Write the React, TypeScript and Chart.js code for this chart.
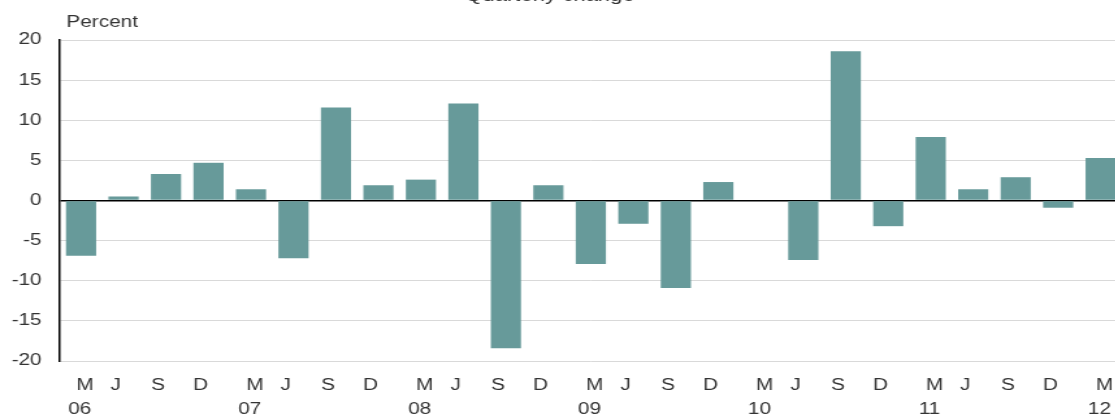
import React, { useEffect, useRef } from "react";
import { Chart, registerables } from "chart.js";

Chart.register(...registerables);

const months = ["M", "J", "S", "D"];
const years = ["06", "07", "08", "09", "10", "11", "12"];
const categories: string[] = [];
years.forEach((y, i) => {
  months.forEach((m, j) => {
    if (i === years.length - 1 && j > 0) return;
    categories.push(m + " " + y);
  });
});

const values = [
  -6.9, 0.5, 3.3, 4.7,
  1.4, -7.2, 11.6, 1.9,
  2.6, 12.1, -18.4, 1.9,
  -7.9, -2.9, -10.9, 2.3,
  0, -7.4, 18.6, -3.2,
  7.9, 1.4, 2.9, -0.9,
  5.3,
];

const yTicks = [-20, -15, -10, -5, 0, 5, 10, 15, 20];
const titleText = "Quarterly change";
const unitText = "Percent";

const FONT = "'Liberation Sans', Arial, sans-serif";
const STRETCH = 1.3;
const CANVAS_W = 863;

export default function App() {
  const ref = useRef<HTMLCanvasElement | null>(null);
  useEffect(() => {
    document.body.style.margin = "0";
    const textPlugin = {
      id: "texts",
      afterDraw(chart: any) {
        const c = chart.ctx;
        const xs = chart.scales.x;
        c.save();
        c.fillStyle = "#333";
        c.font = `17px ${FONT}`;
        c.textAlign = "center";
        c.textBaseline = "alphabetic";
        c.fillText(titleText, 423, 1);
        c.font = `16px ${FONT}`;
        c.textAlign = "left";
        c.fillText(unitText, chart.chartArea.left + 5, 27);
        c.textAlign = "center";
        c.textBaseline = "middle";
        categories.forEach((lab, i) => {
          const [m, y] = lab.split(" ");
          const cx = xs.getPixelForValue(i);
          const off = m === "M" ? 3 : -6;
          c.fillText(m, cx + off, 386);
          if (m === "M") c.fillText(y, cx - 1, 410);
        });
        c.restore();
      },
    };
    const chart = new Chart(ref.current!, {
      type: "bar",
      data: {
        labels: categories,
        datasets: [
          {
            data: values,
            backgroundColor: "#679a9a",
            borderWidth: 0,
            categoryPercentage: 1,
            barPercentage: 0.71,
          },
        ],
      },
      options: {
        animation: false,
        responsive: true,
        maintainAspectRatio: false,
        layout: { padding: { top: 40, right: 0, left: 0, bottom: 0 } },
        plugins: { legend: { display: false }, tooltip: { enabled: false } },
        scales: {
          x: {
            grid: { display: false, drawTicks: false },
            border: { display: false },
            ticks: { display: false },
            afterFit(scale: any) {
              scale.height = 59;
            },
          },
          y: {
            min: -20,
            max: 20,
            afterBuildTicks(scale: any) {
              scale.ticks = yTicks.map((v) => ({ value: v }));
            },
            grid: {
              drawTicks: false,
              color: (ctx: any) => (ctx.tick && ctx.tick.value === 0 ? "#000" : "#d9d9d9"),
              lineWidth: (ctx: any) => (ctx.tick && ctx.tick.value === 0 ? 1.5 : 1),
            },
            border: { display: true, color: "#000", width: 1.5 },
            ticks: {
              color: "#333",
              padding: 14,
              font: { family: FONT, size: 16 },
            },
            afterFit(scale: any) {
              scale.width = 46;
            },
          },
        },
      },
      plugins: [textPlugin],
    });
    return () => chart.destroy();
  }, []);
  return (
    <div
      style={{
        position: "fixed",
        left: 0,
        top: 0,
        width: CANVAS_W,
        height: 420,
        transform: `scaleX(${STRETCH})`,
        transformOrigin: "0 0",
      }}
    >
      <canvas ref={ref} />
    </div>
  );
}
